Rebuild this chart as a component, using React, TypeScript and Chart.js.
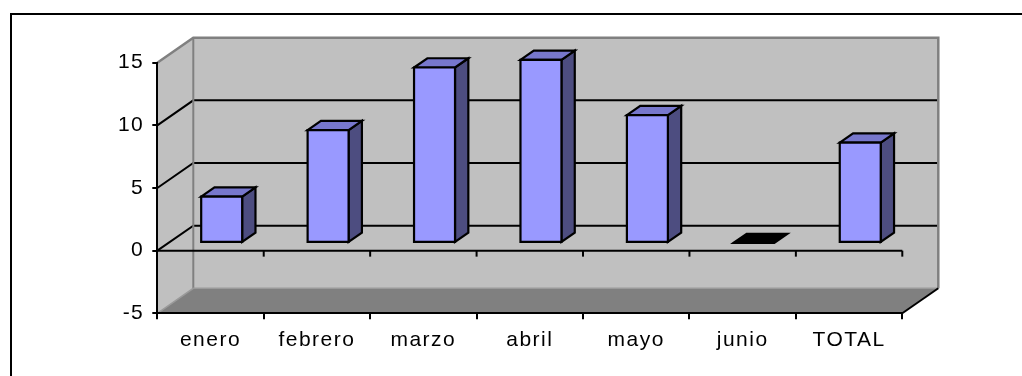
import { useEffect, useRef } from "react";
import { Chart, registerables } from "chart.js";

Chart.register(...registerables);

// Monthly values plus the total column
const categories = ["enero", "febrero", "marzo", "abril", "mayo", "junio", "TOTAL"];
const values = [3.7, 9, 14, 14.6, 10.2, 0, 8];
const yTickValues = [-5, 0, 5, 10, 15];

// 3D projection of the plot box: how far the back wall sits from the front plane
const DEPTH_X = 36;
const DEPTH_Y = -25;
// Bars occupy this slice of the depth (fractions from front to back)
const BAR_FRONT = 0.31;
const BAR_BACK = 0.68;

const COLORS = {
  wall: "#C0C0C0",
  wallEdge: "#808080",
  floor: "#808080",
  barFront: "#9999FF",
  barTop: "#7777CC",
  barSide: "#4D4D80",
  ink: "#000000",
};

const FONT = { family: "'Liberation Sans', Arial, sans-serif", size: 21 };

type Pt = [number, number];

function poly(ctx: CanvasRenderingContext2D, pts: Pt[], fill?: string, stroke?: string, lw = 2) {
  ctx.beginPath();
  ctx.moveTo(pts[0][0], pts[0][1]);
  for (let i = 1; i < pts.length; i++) ctx.lineTo(pts[i][0], pts[i][1]);
  ctx.closePath();
  if (fill) {
    ctx.fillStyle = fill;
    ctx.fill();
  }
  if (stroke) {
    ctx.strokeStyle = stroke;
    ctx.lineWidth = lw;
    ctx.stroke();
  }
}

function line(ctx: CanvasRenderingContext2D, pts: Pt[], color: string, lw = 2) {
  ctx.beginPath();
  ctx.moveTo(pts[0][0], pts[0][1]);
  for (let i = 1; i < pts.length; i++) ctx.lineTo(pts[i][0], pts[i][1]);
  ctx.strokeStyle = color;
  ctx.lineWidth = lw;
  ctx.stroke();
}

// Walls, floor, gridlines and the zero line, painted before the axes
const boxPlugin = {
  id: "box3d",
  beforeDraw(chart: any) {
    const ctx: CanvasRenderingContext2D = chart.ctx;
    (ctx as any).letterSpacing = "1.5px";
    const a = chart.chartArea;
    const ys = chart.scales.y;
    const xs = chart.scales.x;
    const L = a.left, R = a.right, T = a.top, B = a.bottom;
    const dx = DEPTH_X, dy = DEPTH_Y;

    ctx.save();
    ctx.fillStyle = "#ffffff";
    ctx.fillRect(0, 0, chart.width, chart.height);

    // outer frame
    ctx.strokeStyle = COLORS.ink;
    ctx.lineWidth = 2;
    ctx.strokeRect(11, 14, 3000, 3000);

    // back wall, left wall, floor
    poly(ctx, [[L + dx, T + dy], [R + dx, T + dy], [R + dx, B + dy], [L + dx, B + dy]], COLORS.wall);
    poly(ctx, [[L, T], [L + dx, T + dy], [L + dx, B + dy], [L, B]], COLORS.wall);
    poly(ctx, [[L, B], [L + dx, B + dy], [R + dx, B + dy], [R, B]], COLORS.floor);

    // gridlines along the left wall and back wall
    for (const v of yTickValues) {
      if (v <= ys.min || v >= ys.max) continue;
      const py = ys.getPixelForValue(v);
      line(ctx, [[L, py], [L + dx, py + dy], [R + dx, py + dy]], COLORS.ink, 2);
    }

    // wall edges
    line(ctx, [[L, T], [L + dx, T + dy], [R + dx, T + dy], [R + dx, B + dy]], COLORS.wallEdge, 2.5);
    line(ctx, [[L + dx, T + dy], [L + dx, B + dy]], COLORS.wallEdge, 2);
    line(ctx, [[L, B], [L + dx, B + dy], [R + dx, B + dy]], "#9a9a9a", 1.5);
    line(ctx, [[R, B], [R + dx, B + dy]], COLORS.ink, 2);

    // category axis at zero on the front plane, with its tick marks
    const y0 = ys.getPixelForValue(0);
    line(ctx, [[L, y0], [R, y0]], COLORS.ink, 2);
    for (let i = 1; i <= categories.length; i++) {
      const bx = xs.getPixelForValue(i - 0.5);
      line(ctx, [[bx, y0], [bx, y0 + 6]], COLORS.ink, 2);
    }
    ctx.restore();
  },
};

// Columns drawn as boxes from the bar elements' positions
const columnPlugin = {
  id: "columns3d",
  afterDatasetsDraw(chart: any) {
    const ctx: CanvasRenderingContext2D = chart.ctx;
    const meta = chart.getDatasetMeta(0);
    const ox = DEPTH_X * BAR_FRONT, oy = DEPTH_Y * BAR_FRONT;
    const ddx = DEPTH_X * (BAR_BACK - BAR_FRONT), ddy = DEPTH_Y * (BAR_BACK - BAR_FRONT);
    ctx.save();
    ctx.lineJoin = "miter";
    meta.data.forEach((el: any, i: number) => {
      const p = el.getProps(["x", "y", "base", "width"], true);
      const left = p.x - p.width / 2 + ox;
      const right = p.x + p.width / 2 + ox;
      const top = p.y + oy;
      const bottom = p.base + oy;
      const flat = values[i] === 0;
      const topFace: Pt[] = [[left, top], [left + ddx, top + ddy], [right + ddx, top + ddy], [right, top]];
      if (flat) {
        poly(ctx, topFace, COLORS.ink, COLORS.ink, 2);
        return;
      }
      poly(ctx, [[right, top], [right + ddx, top + ddy], [right + ddx, bottom + ddy], [right, bottom]], COLORS.barSide, COLORS.ink, 2.2);
      poly(ctx, topFace, COLORS.barTop, COLORS.ink, 2.2);
      poly(ctx, [[left, top], [right, top], [right, bottom], [left, bottom]], COLORS.barFront, COLORS.ink, 2.2);
    });
    ctx.restore();
  },
};

export default function App() {
  const canvasRef = useRef<HTMLCanvasElement | null>(null);

  useEffect(() => {
    if (!canvasRef.current) return;
    const chart = new Chart(canvasRef.current, {
      type: "bar",
      data: {
        labels: categories,
        datasets: [
          {
            data: values,
            backgroundColor: "rgba(0,0,0,0)",
            borderWidth: 0,
            barPercentage: 0.385,
            categoryPercentage: 1,
          },
        ],
      },
      options: {
        responsive: false,
        animation: false,
        events: [],
        layout: { padding: { left: 0, top: 62.7, right: 119.7, bottom: 0 } },
        plugins: { legend: { display: false }, tooltip: { enabled: false } },
        scales: {
          x: {
            grid: { drawOnChartArea: false, drawTicks: true, tickLength: 6, color: COLORS.ink, lineWidth: 2 },
            border: { display: true, color: COLORS.ink, width: 2 },
            ticks: { color: COLORS.ink, font: FONT, padding: 8, maxRotation: 0, autoSkip: false },
            afterFit(scale: any) {
              scale.height = 376 - 313.3;
            },
          },
          y: {
            min: -5,
            max: 15,
            grid: { drawOnChartArea: false, drawTicks: true, tickLength: 5, color: COLORS.ink, lineWidth: 2 },
            border: { display: true, color: COLORS.ink, width: 2 },
            ticks: { stepSize: 5, color: COLORS.ink, font: FONT, padding: 8 },
            afterFit(scale: any) {
              scale.width = 157.3;
            },
          },
        },
      },
      plugins: [boxPlugin, columnPlugin],
    });
    return () => chart.destroy();
  }, []);

  return (
    <div style={{ position: "fixed", left: 0, top: 0, width: 1022, height: 376, background: "#fff" }}>
      <canvas ref={canvasRef} width={1022} height={376} style={{ display: "block" }} />
    </div>
  );
}
